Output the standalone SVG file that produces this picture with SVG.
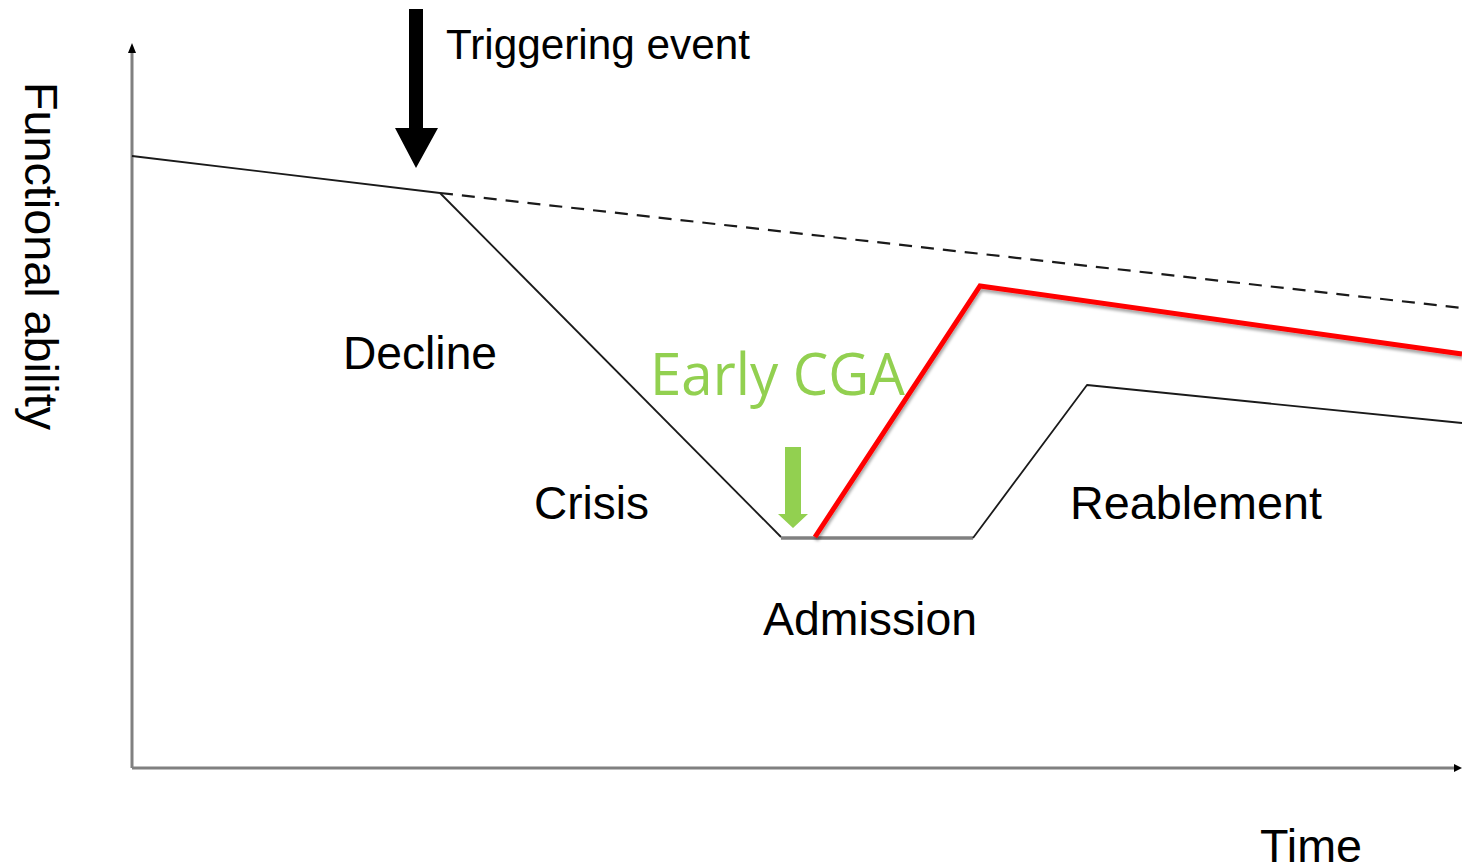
<svg xmlns="http://www.w3.org/2000/svg" width="1462" height="868" viewBox="0 0 1462 868">
<style>
.lbl{font-family:"Liberation Sans",Arial,sans-serif;font-size:46px;fill:#000}
.thin{fill:none;stroke:#1a1a1a;stroke-width:1.8;stroke-linejoin:round}
.axis{fill:none;stroke:#808080;stroke-width:3}
</style>
<defs>
<filter id="sh" x="-10%" y="-10%" width="120%" height="130%">
<feDropShadow dx="1" dy="3" stdDeviation="1.5" flood-color="#000" flood-opacity="0.35"/>
</filter>
</defs>
<rect width="1462" height="868" fill="#fff"/>
<g id="axes">
<line class="axis" x1="132" y1="50" x2="132" y2="768"/>
<line class="axis" x1="132" y1="768" x2="1456" y2="768"/>
<polygon points="132,43 128,53 136,53" fill="#000"/>
<polygon points="1462,768 1454,764 1454,772" fill="#000"/>
</g>
<g id="connectors">
<polyline class="thin" points="132,156 440,193"/>
<line x1="440" y1="193" x2="1462" y2="308" stroke="#1a1a1a" stroke-width="2.2" stroke-dasharray="13,9"/>
<polyline class="thin" points="440,193 781,537"/>
<line x1="781" y1="538" x2="973" y2="538" stroke="#808080" stroke-width="3.5"/>
<polyline class="thin" points="973,538 1087,385 1462,423"/>
<polyline points="815,537 980,286 1462,354" fill="none" stroke="#ff0000" stroke-width="5" stroke-linejoin="miter" filter="url(#sh)"/>
</g>
<g id="trigger-arrow">
<polygon points="409,9 423,9 423,128 438,128 416,168 395,128 409,128" fill="#000"/>
</g>
<g id="cga-arrow">
<polygon points="785,447 801,447 801,514 808,514 793,528 778,514 785,514" fill="#92d050"/>
</g>
<g id="labels">
<text class="lbl" x="446" y="59" font-size="42" textLength="304" lengthAdjust="spacingAndGlyphs" style="font-size:42px">Triggering event</text>
<text class="lbl" x="343" y="369" textLength="154" lengthAdjust="spacingAndGlyphs">Decline</text>
<text class="lbl" x="534" y="519" textLength="115" lengthAdjust="spacingAndGlyphs">Crisis</text>
<text class="lbl" x="763" y="635" textLength="214" lengthAdjust="spacingAndGlyphs">Admission</text>
<text class="lbl" x="1070" y="519" textLength="252" lengthAdjust="spacingAndGlyphs">Reablement</text>
<text class="lbl" x="1260" y="862" textLength="102" lengthAdjust="spacingAndGlyphs">Time</text>
<text class="lbl" transform="translate(25,82) rotate(90)" x="0" y="0" textLength="348" lengthAdjust="spacingAndGlyphs">Functional ability</text>
<text x="650" y="395" font-family="'Open Sans','DejaVu Sans',sans-serif" font-size="58" fill="#92d050" textLength="255" lengthAdjust="spacingAndGlyphs">Early CGA</text>
</g>
</svg>
